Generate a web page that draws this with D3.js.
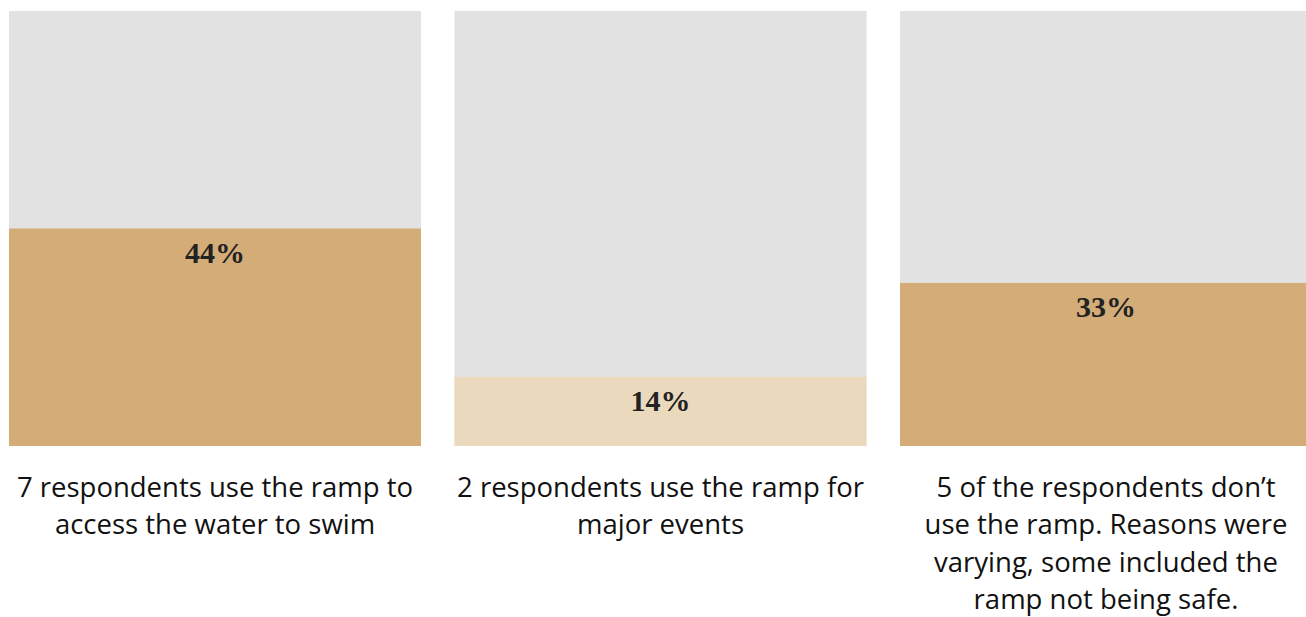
<!DOCTYPE html>
<html>
<head>
<meta charset="utf-8">
<script src="https://cdn.jsdelivr.net/npm/d3@7"></script>
<style>
  html, body { margin: 0; padding: 0; background: #fff; }
  svg { display: block; }
</style>
</head>
<body>
<svg id="chart" width="1306" height="617"></svg>
<script>
const categories = ["swim", "events", "notUsed"];
const values = [44, 14, 33];
const valueLabels = ["44%", "14%", "33%"];
const captions = [
  ["7 respondents use the ramp to", "access the water to swim"],
  ["2 respondents use the ramp for", "major events"],
  ["5 of the respondents don\u2019t", "use the ramp. Reasons were", "varying, some included the", "ramp not being safe."]
];
const fillColors = ["#D4AC78", "#EBD9BE", "#D4AC78"];

const svg = d3.select("#chart");
const panelW = 412, step = 445.5;
const plotTop = 11, plotBottom = 446;

const x = d3.scaleBand().domain(categories).range([9, 9 + step * 3]).paddingInner(0).paddingOuter(0);
const y = d3.scaleLinear().domain([0, 88]).range([plotBottom, plotTop]);

const g = svg.selectAll("g.panel").data(categories).join("g")
  .attr("class", "panel")
  .attr("transform", d => `translate(${x(d)},0)`);

g.append("rect")
  .attr("x", 0).attr("y", plotTop)
  .attr("width", panelW).attr("height", plotBottom - plotTop)
  .attr("fill", "#E2E2E2");

g.append("rect")
  .attr("x", 0)
  .attr("y", (d, i) => y(values[i]))
  .attr("width", panelW)
  .attr("height", (d, i) => plotBottom - y(values[i]))
  .attr("fill", (d, i) => fillColors[i]);

g.append("text")
  .attr("x", panelW / 2)
  .attr("y", (d, i) => y(values[i]) + 34)
  .attr("text-anchor", "middle")
  .attr("font-family", "'Liberation Serif', 'DejaVu Serif', serif")
  .attr("font-weight", "bold")
  .attr("font-size", 30)
  .attr("fill", "#222")
  .text((d, i) => valueLabels[i]);

g.each(function(d, i) {
  const t = d3.select(this).append("text")
    .attr("text-anchor", "middle")
    .attr("font-family", "'Open Sans', 'Noto Sans', sans-serif")
    .attr("font-size", 27.5)
    .attr("fill", "#111");
  captions[i].forEach((line, j) => {
    t.append("tspan")
      .attr("x", panelW / 2)
      .attr("y", 497 + j * 37.3)
      .text(line);
  });
});
</script>
</body>
</html>
